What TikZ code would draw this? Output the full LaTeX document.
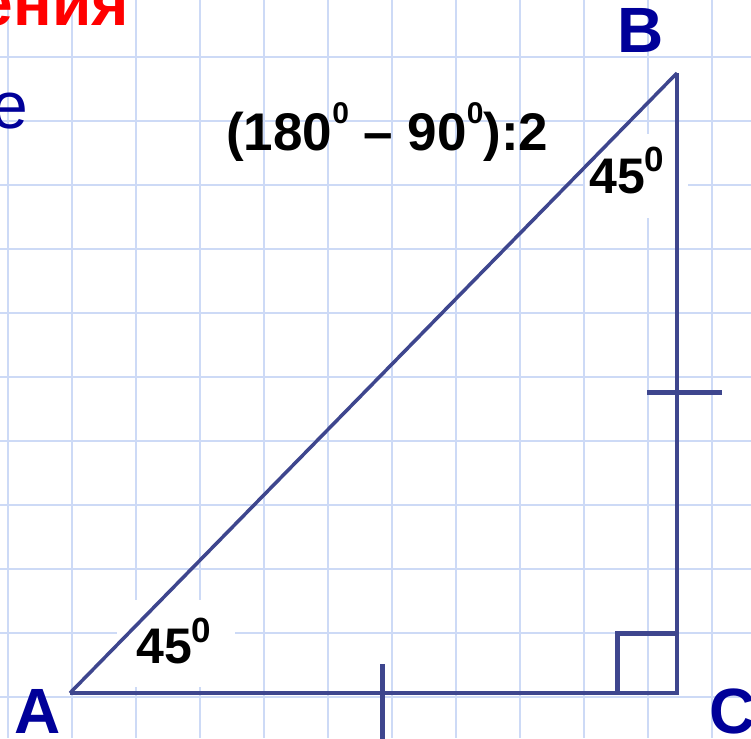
\documentclass[tikz,border=0pt]{standalone}
\usepackage{fontspec}
\setmainfont{Liberation Sans}

\definecolor{gridblue}{RGB}{205,218,246}
\definecolor{legblue}{RGB}{62,70,142}
\definecolor{lettblue}{RGB}{0,0,153}

\newcommand{\degsup}{\raisebox{21pt}{\fontsize{35}{35}\selectfont 0}}
\newcommand{\degsm}{\raisebox{27pt}{\fontsize{30}{30}\selectfont 0}}

\begin{document}
\begin{tikzpicture}[
  x=1pt, y=-1pt,
  gridline/.style={draw=gridblue, line width=2pt},
  side/.style={draw=legblue, line width=4.2pt, line join=miter},
  hyp/.style={draw=legblue, line width=3.5pt},
  tickmark/.style={draw=legblue, line width=5pt},
  vertex/.style={font=\fontsize{64}{64}\selectfont\bfseries, text=lettblue, inner sep=0pt, anchor=base west},
  deg/.style={font=\fontsize{50}{50}\selectfont\bfseries, inner sep=0pt, anchor=base west},
  mask/.style={fill=white, inner sep=0pt}
]
\useasboundingbox (0,0) rectangle (751,738);

% Squared paper
\foreach \gx in {0,...,11}
  \draw[gridline] (8+64*\gx,0) -- (8+64*\gx,738);
\foreach \gy in {0,...,10}
  \draw[gridline] (0,57+64*\gy) -- (751,57+64*\gy);

% Cut-off words of the slide
\node[font=\fontsize{64}{64}\selectfont\bfseries, text=red, inner sep=0pt, anchor=base east] (title) at (129,26) {ения};
\node[font=\fontsize{66}{66}\selectfont, text=lettblue, inner sep=0pt, anchor=base east] (word) at (28,129) {е};

% White patches behind the angle labels
\node[mask, minimum width=118pt, minimum height=87pt] (maskA) at (176,643.5) {};
\node[mask, minimum width=103pt, minimum height=84pt] (maskB) at (636.5,176) {};

% Triangle
\coordinate (A) at (70,693);
\coordinate (C) at (677,693);
\coordinate (B) at (677,73);
\draw[side] (A) -- (C) -- (B);
\draw[hyp] (B) -- (A);

% Right angle and equal legs
\draw[tickmark] ([xshift=-60pt]C) |- ([yshift=60pt]C);
\coordinate (mBC) at (677,392);
\coordinate (mAC) at (382,693);
\draw[tickmark] ([xshift=-30pt]mBC) -- ([xshift=45pt]mBC);
\draw[tickmark] ([yshift=29pt]mAC) -- ([yshift=-48pt]mAC);

% Vertex letters
\node[vertex] (lA) at (14,733) {A};
\node[vertex] (lB) at (617,53) {B};
\node[vertex] (lC) at (709,733) {C};

% Angles
\node[deg] (angA) at (136,663) {45\degsup};
\node[deg] (angB) at (589,193) {45\degsup};
\node[deg, font=\fontsize{53}{53}\selectfont\bfseries] (rule) at (226,150) {(180\degsm{} -- 90\degsm):2};

\end{tikzpicture}
\end{document}
